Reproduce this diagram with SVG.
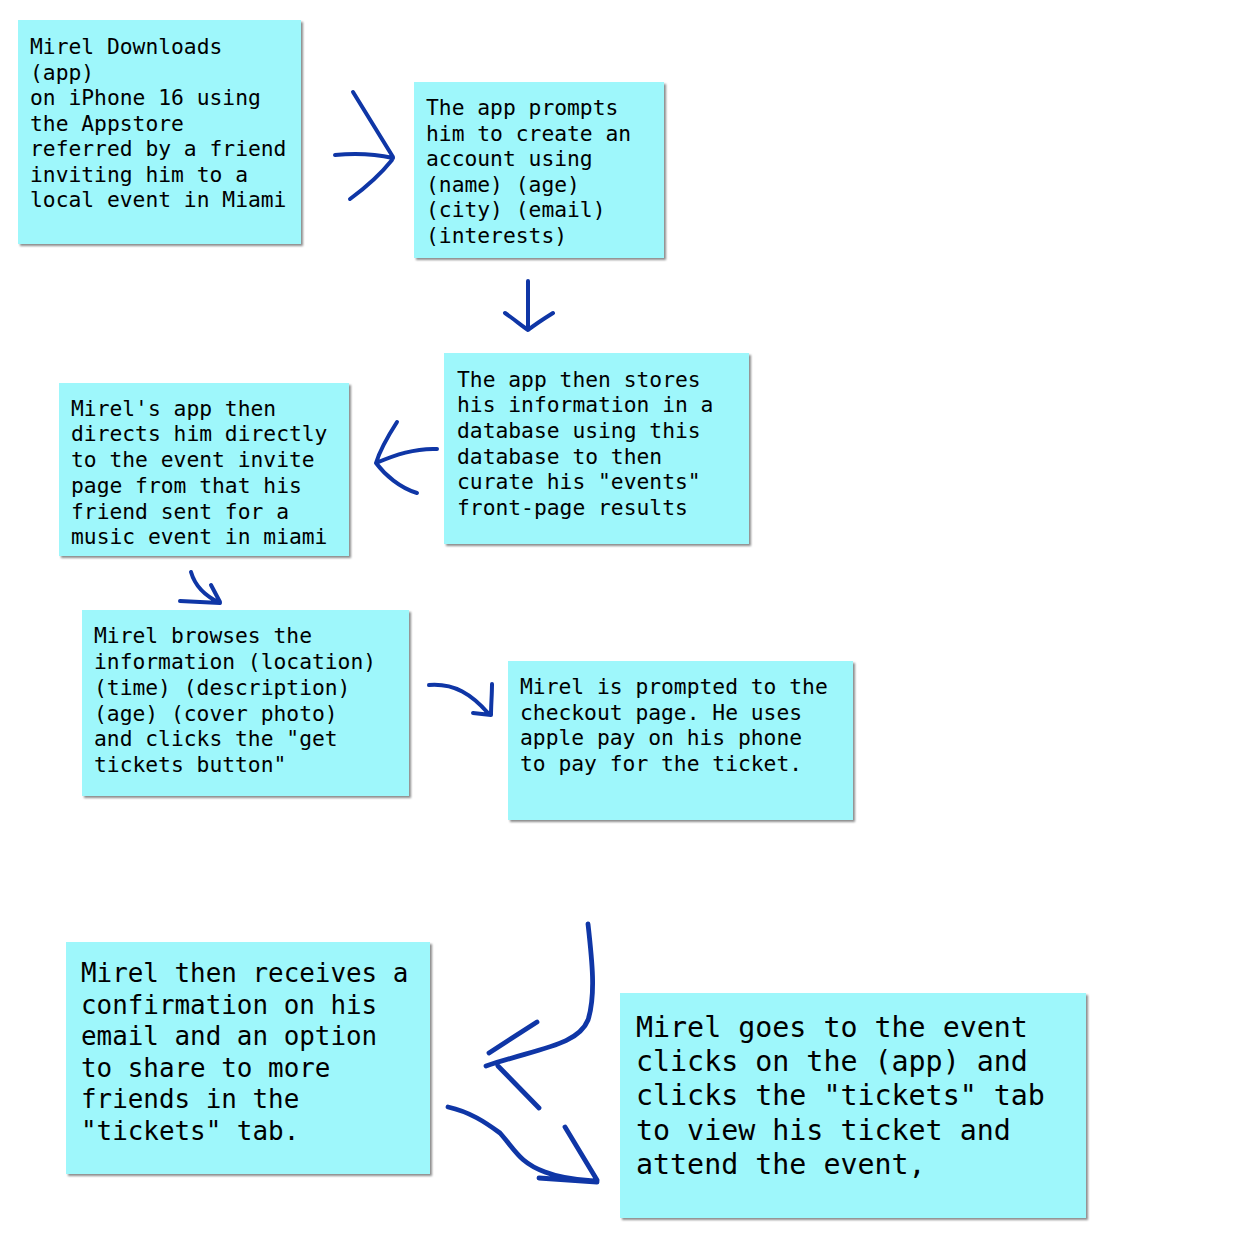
<svg xmlns="http://www.w3.org/2000/svg" width="1258" height="1250" viewBox="0 0 1258 1250">
<defs>
<filter id="sh" x="-5%" y="-5%" width="115%" height="115%">
<feDropShadow dx="2" dy="2" stdDeviation="1.2" flood-color="#000" flood-opacity="0.45"/>
</filter>
<style>
.box{fill:#9ef7fb;filter:url(#sh);}
.t{font-family:"DejaVu Sans Mono","Liberation Mono",monospace;font-size:21.3px;fill:#000;}
.t7{font-size:25.9px;}
.t8{font-size:28.3px;}
.ar{fill:none;stroke:#0f36a6;stroke-width:4;stroke-linecap:round;stroke-linejoin:round;}
.ar.b{stroke-width:4.8;}
</style>
</defs>
<rect width="1258" height="1250" fill="#fff"/>

<g id="node1">
<rect class="box" x="18" y="20" width="283" height="224"/>
<text class="t"><tspan x="30" y="54">Mirel Downloads</tspan><tspan x="30" y="80">(app)</tspan><tspan x="30" y="105">on iPhone 16 using</tspan><tspan x="30" y="131">the Appstore</tspan><tspan x="30" y="156">referred by a friend</tspan><tspan x="30" y="182">inviting him to a</tspan><tspan x="30" y="207">local event in Miami</tspan></text>
</g>

<g id="node2">
<rect class="box" x="414" y="82" width="250" height="176"/>
<text class="t"><tspan x="426" y="115">The app prompts</tspan><tspan x="426" y="141">him to create an</tspan><tspan x="426" y="166">account using</tspan><tspan x="426" y="192">(name) (age)</tspan><tspan x="426" y="217">(city) (email)</tspan><tspan x="426" y="243">(interests)</tspan></text>
</g>

<g id="node3">
<rect class="box" x="444" y="353" width="305" height="191"/>
<text class="t"><tspan x="457" y="387">The app then stores</tspan><tspan x="457" y="412">his information in a</tspan><tspan x="457" y="438">database using this</tspan><tspan x="457" y="464">database to then</tspan><tspan x="457" y="489">curate his "events"</tspan><tspan x="457" y="515">front-page results</tspan></text>
</g>

<g id="node4">
<rect class="box" x="59" y="383" width="290" height="173"/>
<text class="t"><tspan x="71" y="416">Mirel's app then</tspan><tspan x="71" y="441">directs him directly</tspan><tspan x="71" y="467">to the event invite</tspan><tspan x="71" y="493">page from that his</tspan><tspan x="71" y="519">friend sent for a</tspan><tspan x="71" y="544">music event in miami</tspan></text>
</g>

<g id="node5">
<rect class="box" x="82" y="610" width="327" height="186"/>
<text class="t"><tspan x="94" y="643">Mirel browses the</tspan><tspan x="94" y="669">information (location)</tspan><tspan x="94" y="695">(time) (description)</tspan><tspan x="94" y="721">(age) (cover photo)</tspan><tspan x="94" y="746">and clicks the "get</tspan><tspan x="94" y="772">tickets button"</tspan></text>
</g>

<g id="node6">
<rect class="box" x="508" y="661" width="345" height="159"/>
<text class="t"><tspan x="520" y="694">Mirel is prompted to the</tspan><tspan x="520" y="720">checkout page. He uses</tspan><tspan x="520" y="745">apple pay on his phone</tspan><tspan x="520" y="771">to pay for the ticket.</tspan></text>
</g>

<g id="node7">
<rect class="box" x="66" y="942" width="364" height="232"/>
<text class="t t7"><tspan x="81" y="982">Mirel then receives a</tspan><tspan x="81" y="1014">confirmation on his</tspan><tspan x="81" y="1045">email and an option</tspan><tspan x="81" y="1077">to share to more</tspan><tspan x="81" y="1108">friends in the</tspan><tspan x="81" y="1140">"tickets" tab.</tspan></text>
</g>

<g id="node8">
<rect class="box" x="620" y="993" width="466" height="225"/>
<text class="t t8"><tspan x="636" y="1037">Mirel goes to the event</tspan><tspan x="636" y="1071">clicks on the (app) and</tspan><tspan x="636" y="1105">clicks the "tickets" tab</tspan><tspan x="636" y="1140">to view his ticket and</tspan><tspan x="636" y="1174">attend the event,</tspan></text>
</g>

<g id="connectors">
<path class="ar" d="M335,155 C355,153 375,154 393,158 M353,92 L393,157 M392,160 C380,175 365,188 350,199"/>
<path class="ar" d="M528,281 L528,330 M505,313 C515,320 522,326 528,330 C537,323 545,318 553,313"/>
<path class="ar" d="M437,449 C415,448 395,455 376,463 M397,422 C388,436 380,450 376,463 C385,475 400,488 417,493"/>
<path class="ar" d="M191,572 C195,586 205,596 220,603 M180,601 L220,603 M211,585 L220,602"/>
<path class="ar" d="M429,685 C455,683 472,695 488,713 M492,684 C492,695 491,705 491,715 L473,713"/>
<path class="ar b" d="M588,924 C592,960 596,995 588,1020 C578,1045 540,1048 486,1066 M489,1053 L537,1022 M498,1066 L539,1108"/>
<path class="ar b" d="M448,1107 C470,1112 485,1122 500,1133 C515,1150 520,1163 545,1172 C565,1180 585,1180 597,1181 M565,1127 L597,1180 M539,1178 L597,1182"/>
</g>
</svg>
